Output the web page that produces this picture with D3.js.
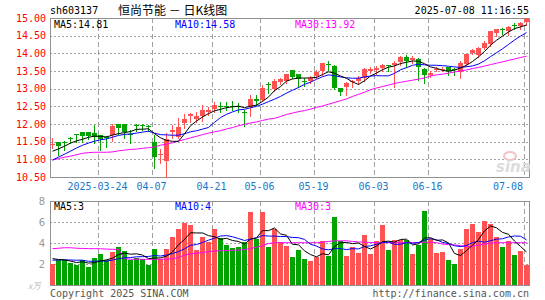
<!DOCTYPE html>
<html><head><meta charset="utf-8">
<script src="https://cdn.jsdelivr.net/npm/d3@7"></script>
<style>html,body{margin:0;padding:0;background:#fff;}svg{display:block}</style>
</head><body>
<svg id="c" width="545" height="300"></svg>
<script>
// ---------- data ----------
const dates = [
"2025-03-12","2025-03-13","2025-03-14","2025-03-17","2025-03-18","2025-03-19","2025-03-20","2025-03-21","2025-03-24","2025-03-25",
"2025-03-26","2025-03-27","2025-03-28","2025-03-31","2025-04-01","2025-04-02","2025-04-03","2025-04-07","2025-04-08","2025-04-09",
"2025-04-10","2025-04-11","2025-04-14","2025-04-15","2025-04-16","2025-04-17","2025-04-18","2025-04-21","2025-04-22","2025-04-23",
"2025-04-24","2025-04-25","2025-04-28","2025-04-29","2025-04-30","2025-05-06","2025-05-07","2025-05-08","2025-05-09","2025-05-12",
"2025-05-13","2025-05-14","2025-05-15","2025-05-16","2025-05-19","2025-05-20","2025-05-21","2025-05-22","2025-05-23","2025-05-26",
"2025-05-27","2025-05-28","2025-05-29","2025-05-30","2025-06-03","2025-06-04","2025-06-05","2025-06-06","2025-06-09","2025-06-10",
"2025-06-11","2025-06-12","2025-06-13","2025-06-16","2025-06-17","2025-06-18","2025-06-19","2025-06-20","2025-06-23","2025-06-24",
"2025-06-25","2025-06-26","2025-06-27","2025-06-30","2025-07-01","2025-07-02","2025-07-03","2025-07-04","2025-07-07","2025-07-08"];

const opens = [
11.42,11.50,11.49,11.61,11.72,11.77,11.77,11.74,11.69,11.64,
11.69,12.00,12.00,11.73,11.96,11.96,11.94,11.50,11.13,10.95,
11.76,11.64,12.02,12.24,12.15,12.24,12.34,12.42,12.50,12.50,
12.52,12.50,12.34,12.47,12.70,12.69,13.14,12.99,13.18,13.23,
13.52,13.42,13.23,13.23,13.37,13.49,13.71,13.65,13.02,13.06,
13.18,13.21,13.30,13.50,13.52,13.58,13.67,13.68,13.76,13.90,
13.80,13.84,13.55,13.38,13.56,13.56,13.61,13.55,13.48,13.69,
14.01,13.95,14.16,14.26,14.58,14.70,14.64,14.79,14.76,14.88];
const highs = [
11.60,11.50,11.52,11.64,11.72,11.77,11.77,11.98,11.69,11.66,
12.00,12.00,12.00,11.83,12.00,11.99,11.98,11.69,11.29,11.74,
11.96,12.18,12.28,12.31,12.33,12.54,12.47,12.61,12.61,12.61,
12.64,12.59,12.40,12.83,12.83,13.11,13.18,13.27,13.30,13.42,
13.54,13.42,13.30,13.35,13.52,13.74,13.77,13.68,13.02,13.19,
13.25,13.35,13.58,13.60,13.63,13.71,13.68,13.79,13.92,13.94,
13.92,13.87,13.58,13.49,13.60,13.60,13.61,13.59,13.77,13.99,
14.11,14.18,14.35,14.63,14.70,14.72,14.77,14.86,14.90,15.00];
const lows = [
11.31,11.12,11.27,11.45,11.50,11.50,11.57,11.45,11.27,11.36,
11.53,11.71,11.60,11.47,11.79,11.82,11.79,10.75,10.89,10.50,
11.60,11.60,11.88,12.07,12.07,12.09,12.26,12.33,12.33,12.40,
12.40,12.33,11.93,12.23,12.54,12.64,12.87,12.92,13.14,13.16,
13.31,13.06,13.08,13.16,13.30,13.39,13.54,12.99,12.83,12.83,
13.06,13.13,13.21,13.44,13.41,13.49,13.51,13.05,13.68,13.60,
13.72,13.25,13.16,13.33,13.49,13.50,13.38,13.39,13.31,13.64,
13.97,13.90,14.11,14.21,14.49,14.55,14.52,14.70,14.70,14.80];
const closes = [
11.44,11.39,11.47,11.60,11.71,11.67,11.67,11.63,11.57,11.63,
11.93,11.88,11.77,11.72,11.95,11.95,11.93,11.08,11.14,11.57,
11.83,11.92,12.15,12.28,12.24,12.40,12.40,12.54,12.49,12.49,
12.51,12.49,12.33,12.70,12.64,13.02,13.13,13.23,13.27,13.42,
13.32,13.27,13.22,13.30,13.48,13.73,13.66,13.02,12.90,13.16,
13.21,13.30,13.55,13.57,13.58,13.68,13.66,13.73,13.90,13.77,
13.86,13.62,13.38,13.45,13.57,13.57,13.50,13.54,13.74,13.97,
14.09,14.16,14.30,14.62,14.68,14.68,14.74,14.78,14.86,14.96];
// volume, 10k lots
const volumes = [
1.98,2.36,2.36,2.10,1.89,2.36,1.73,2.55,2.92,2.42,
3.11,3.58,3.20,2.36,2.61,2.52,1.92,3.40,2.48,3.40,
4.53,5.38,5.88,5.69,3.30,4.53,4.09,5.38,4.46,3.77,
3.49,3.61,4.09,6.92,4.37,6.92,3.58,5.35,4.09,3.71,
2.67,3.33,2.48,2.29,2.67,4.15,2.76,6.44,4.15,2.76,
3.61,3.05,4.78,2.95,4.15,5.69,3.33,4.25,4.25,4.31,
2.95,3.84,7.01,4.40,3.05,3.18,2.39,2.00,3.42,5.38,
5.78,5.03,6.13,5.78,4.53,3.58,4.15,2.86,3.24,1.92];
// closes / volumes of the days just before the window (estimated from the MA lines)
const priorCloses = [10.55,10.65,10.75,10.80,10.90,11.05,11.10,11.15,11.40];
const priorVolumes = [2.1,2.3,2.2,2.1,2.3,2.8,2.5,2.7,2.6];
const ma30Price = [
10.98,11.02,11.06,11.09,11.13,11.17,11.19,11.20,11.20,11.20,
11.21,11.24,11.26,11.28,11.29,11.31,11.33,11.35,11.40,11.43,
11.47,11.52,11.56,11.61,11.65,11.70,11.74,11.78,11.81,11.86,
11.90,11.95,11.99,12.03,12.06,12.10,12.14,12.16,12.21,12.27,
12.31,12.35,12.38,12.42,12.47,12.51,12.56,12.61,12.66,12.71,
12.78,12.84,12.90,12.97,13.02,13.06,13.10,13.15,13.18,13.21,
13.24,13.27,13.30,13.36,13.39,13.41,13.44,13.47,13.50,13.53,
13.57,13.60,13.64,13.68,13.72,13.76,13.80,13.84,13.88,13.92];
const ma30Volume = [
3.46,3.50,3.55,3.55,3.50,3.48,3.46,3.46,3.45,3.42,
3.40,3.38,2.50,2.45,2.45,2.45,2.44,2.45,2.45,2.47,
2.50,2.62,2.85,2.97,3.03,3.08,3.18,3.24,3.26,3.28,
3.30,3.33,3.37,3.48,3.60,3.75,3.95,4.03,4.03,4.03,
4.03,4.03,4.03,4.03,4.03,4.08,4.15,4.20,4.21,4.21,
4.15,4.10,4.08,4.05,4.03,4.03,4.03,4.03,4.03,4.03,
4.03,4.04,4.06,4.08,4.03,3.90,3.85,3.82,3.75,3.65,
3.68,3.80,3.90,3.98,4.03,4.03,4.03,4.03,4.03,4.03];
const priceTicks = [10.5,11,11.5,12,12.5,13,13.5,14,14.5,15];
const volumeTicks = [2,4,6,8];
const dateTicks = ["2025-03-24","2025-04-07","2025-04-21","2025-05-06","2025-05-19","2025-06-03","2025-06-16","2025-07-08"];
const dateTickLabels = ["2025-03-24","04-07","04-21","05-06","05-19","06-03","06-16","07-08"];
const priceMaLabels = ["MA5:14.81","MA10:14.58","MA30:13.92"];
const volumeMaLabels = ["MA5:3","MA10:4","MA30:3"];
const stockCode = "sh603137";
const titleText = "恒尚节能 － 日K线图";
const timeText = "2025-07-08 11:16:55";

// ---------- helpers ----------
function movingAvg(vals, prior, n){
  const all = prior.concat(vals);
  return vals.map((_, i) => { const e = prior.length + i; return d3.mean(all.slice(e - n + 1, e + 1)); });
}
const ma5Price = movingAvg(closes, priorCloses, 5);
const ma10Price = movingAvg(closes, priorCloses, 10);
const ma5Vol = movingAvg(volumes, priorVolumes, 5);
const ma10Vol = movingAvg(volumes, priorVolumes, 10);

const RED = "#ff5252", GREEN = "#00a300", GRID = "#a0a0a0", FRAME = "#909090";
const MONO = "'DejaVu Sans Mono', 'Liberation Mono', monospace";
const svg = d3.select("#c").attr("shape-rendering","crispEdges");

const x = d3.scaleBand().domain(dates).range([50, 530]).padding(0);
const yP = d3.scaleLinear().domain([10.5, 15]).range([177, 18]);
const yV = d3.scaleLinear().domain([0, 8]).range([285, 201]);
const r = v => Math.round(v) + 0.5;

// ---------- header ----------
svg.append("text").attr("x",50).attr("y",14).attr("font-family",MONO).attr("font-size",10).attr("fill","#000").text(stockCode);
svg.append("text").attr("x",118).attr("y",15).attr("font-family","'Noto Sans CJK SC', sans-serif").attr("font-size",12).attr("fill","#000").text(titleText);
svg.append("text").attr("x",529).attr("y",14).attr("text-anchor","end").attr("font-family",MONO).attr("font-size",10).attr("fill","#000").text(timeText);

// ---------- panels ----------
function panel(top, bottom, yScale, gridTicks){
  const g = svg.append("g");
  gridTicks.forEach(t => {
    g.append("line").attr("x1",50).attr("x2",529).attr("y1",r(yScale(t))).attr("y2",r(yScale(t)))
      .attr("stroke",GRID).attr("stroke-dasharray","2,2");
  });
  dateTicks.forEach(d => {
    g.append("line").attr("x1",x(d)+0.5).attr("x2",x(d)+0.5).attr("y1",top).attr("y2",bottom)
      .attr("stroke",GRID).attr("stroke-dasharray","5,3");
  });
  g.append("rect").attr("x",50.5).attr("y",top+0.5).attr("width",479).attr("height",bottom-top)
    .attr("fill","none").attr("stroke",FRAME);
}
panel(18, 177, yP, priceTicks.filter(t => t > 10.5 && t < 15));
panel(201, 285, yV, volumeTicks.filter(t => t < 8));

// watermark
svg.append("ellipse").attr("cx",510).attr("cy",156).attr("rx",6).attr("ry",4).attr("fill","none").attr("stroke","#f2c4c4").attr("stroke-width",2).attr("shape-rendering","auto");
svg.append("text").attr("x",496).attr("y",172).attr("font-family","'DejaVu Sans', sans-serif").attr("font-style","italic").attr("font-weight","bold").attr("font-size",15).attr("fill","#dcdcdc").text("sina");

// y labels
priceTicks.forEach(t => {
  svg.append("text").attr("x",46).attr("y",yP(t)+3.5).attr("text-anchor","end").attr("font-family",MONO).attr("font-size",10).attr("fill","#ff0000").text(t.toFixed(2));
});
volumeTicks.forEach(t => {
  svg.append("text").attr("x",45).attr("y",yV(t)+3.5).attr("text-anchor","end").attr("font-family","'DejaVu Sans', sans-serif").attr("font-size",10).attr("fill","#999").text(t);
});
svg.append("text").attr("x",28).attr("y",289).attr("font-family","'Noto Sans CJK SC', sans-serif").attr("font-style","italic").attr("font-size",8.5).attr("fill","#bbb").text("x万");

// date labels
dateTicks.forEach((d, i) => {
  const lbl = dateTickLabels[i];
  const w = lbl.length * 6;
  let cx = x(d) - 0.5;
  if (cx + w / 2 > 523) cx = 523 - w / 2;
  svg.append("text").attr("x",cx).attr("y",189.5).attr("text-anchor","middle").attr("font-family",MONO).attr("font-size",10).attr("fill","#1a78c8").text(lbl);
});

// ---------- candles ----------
const cg = svg.append("g");
dates.forEach((d, i) => {
  const o = opens[i], c = closes[i], h = highs[i], l = lows[i];
  const col = c >= o ? RED : GREEN;
  const x0 = x(d);
  const yh = Math.round(yP(h)), yl = Math.round(yP(l));
  cg.append("rect").attr("x",x0+2).attr("y",yh).attr("width",1).attr("height",Math.max(1,yl-yh+1)).attr("fill",col);
  const yt = Math.round(yP(Math.max(o,c))), yb = Math.round(yP(Math.min(o,c)));
  cg.append("rect").attr("x",x0).attr("y",yt).attr("width",5).attr("height",Math.max(1,yb-yt)).attr("fill",col);
});

// volume bars
const vg = svg.append("g");
dates.forEach((d, i) => {
  const col = closes[i] >= opens[i] ? RED : GREEN;
  const yt = Math.round(yV(volumes[i]));
  vg.append("rect").attr("x",x(d)).attr("y",yt).attr("width",5).attr("height",285-yt).attr("fill",col);
});

// ---------- MA lines ----------
function maLine(vals, yScale, color){
  const line = d3.line().x((v, i) => x(dates[i]) + 2.5).y(v => yScale(v));
  svg.append("path").attr("d", line(vals)).attr("fill","none").attr("stroke",color).attr("stroke-width",1).attr("shape-rendering","auto");
}
maLine(ma30Price, yP, "#ff00ff");
maLine(ma10Price, yP, "#0000ff");
maLine(ma5Price, yP, "#000000");
maLine(ma30Volume, yV, "#ff00ff");
maLine(ma10Vol, yV, "#0000ff");
maLine(ma5Vol, yV, "#000000");

// MA labels
const maColors = ["#000000","#0000ff","#ff00ff"];
const maX = [54, 175, 295];
priceMaLabels.forEach((t, i) => {
  svg.append("text").attr("x",maX[i]).attr("y",27.5).attr("font-family",MONO).attr("font-size",10).attr("fill",maColors[i]).text(t);
});
volumeMaLabels.forEach((t, i) => {
  svg.append("text").attr("x",maX[i]).attr("y",210).attr("font-family",MONO).attr("font-size",10).attr("fill",maColors[i]).text(t);
});

// footer
svg.append("text").attr("x",50).attr("y",297).attr("font-family",MONO).attr("font-size",10).attr("fill","#555").text("Copyright 2025 SINA.COM");
svg.append("text").attr("x",529).attr("y",297).attr("text-anchor","end").attr("font-family",MONO).attr("font-size",10).attr("fill","#555").text("http://finance.sina.com.cn");
</script>
</body></html>
